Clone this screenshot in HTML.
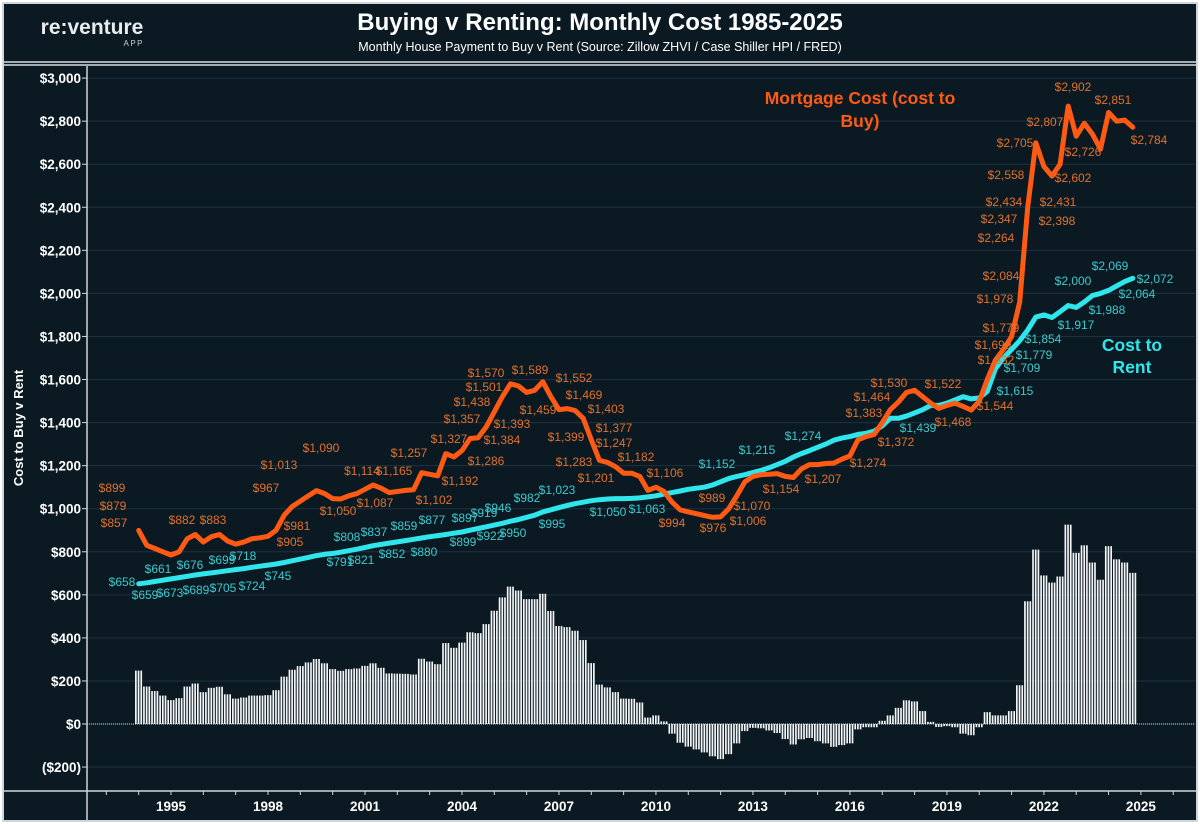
<!DOCTYPE html>
<html><head><meta charset="utf-8"><style>
html,body{margin:0;padding:0;background:#fff;}
#wrap{position:relative;width:1200px;height:824px;overflow:hidden;}
svg text{font-family:"Liberation Sans",Arial,sans-serif;}
</style></head><body>
<div id="wrap">
<svg id="chart" width="1200" height="824" xmlns="http://www.w3.org/2000/svg">
<rect x="0" y="0" width="1200" height="824" fill="#ffffff"/>
<rect x="3" y="3" width="1194" height="818" fill="#0b1a22" stroke="#cfd6da" stroke-width="2"/>
<line x1="3" y1="62" x2="1197" y2="62" stroke="#d8dde0" stroke-width="1.5"/>
<line x1="3" y1="65" x2="1197" y2="65" stroke="#d8dde0" stroke-width="1.5"/>
<text x="92" y="34" fill="#e8ecee" font-size="21" font-weight="bold" text-anchor="middle">re:venture</text>
<text x="144" y="46" fill="#c8cdd0" font-size="8" letter-spacing="1.5" text-anchor="end">APP</text>
<text x="600" y="30" fill="#ffffff" font-size="24" font-weight="bold" text-anchor="middle">Buying v Renting: Monthly Cost 1985-2025</text>
<text x="600" y="51" fill="#ffffff" font-size="12.5" text-anchor="middle">Monthly House Payment to Buy v Rent (Source: Zillow ZHVI / Case Shiller HPI / FRED)</text>
<text transform="translate(23,428) rotate(-90)" fill="#ffffff" font-size="13" font-weight="bold" text-anchor="middle">Cost to Buy v Rent</text>
<g id="grid"></g><g id="bars"></g><g id="lines"></g><g id="labels"></g><g id="axes"></g>
<text x="860" y="104" fill="#ff5a14" font-size="17.5" font-weight="bold" text-anchor="middle">Mortgage Cost (cost to</text>
<text x="860" y="127" fill="#ff5a14" font-size="17.5" font-weight="bold" text-anchor="middle">Buy)</text>
<text x="1132" y="351" fill="#2fe6ec" font-size="17.5" font-weight="bold" text-anchor="middle">Cost to</text>
<text x="1132" y="373" fill="#2fe6ec" font-size="17.5" font-weight="bold" text-anchor="middle">Rent</text>
</svg>
</div>
<script>
const startYear = 1994.0;
const stepYears = 0.25;
const mortgage = [
899,830,815,800, 785,800,860,880, 845,870,880,850, 835,845,860,865,
872,900,970,1010, 1035,1060,1084,1070, 1047,1045,1060,1070, 1090,1110,1095,1075,
1080,1085,1088,1167, 1160,1153,1256,1240, 1270,1326,1330,1380, 1450,1520,1580,1570,
1540,1550,1590,1520, 1460,1465,1456,1420, 1320,1225,1215,1195, 1165,1165,1150,1085,
1100,1080,1030,995, 985,977,968,960, 962,1000,1060,1125, 1150,1158,1160,1163,
1150,1145,1185,1205, 1205,1210,1212,1230, 1245,1320,1335,1345, 1400,1460,1495,1540,
1550,1520,1490,1466, 1480,1490,1475,1458, 1500,1600,1690,1740, 1800,1960,2400,2700,
2590,2545,2600,2870, 2730,2790,2740,2670, 2840,2800,2805,2772];
const rent = [
651,656,662,668, 674,680,686,692, 697,702,707,712, 717,722,728,733,
738,743,750,758, 766,774,782,788, 792,798,805,812, 820,828,834,840,
846,852,858,864, 870,875,880,886, 892,900,908,916, 924,932,942,950,
960,970,985,995, 1005,1015,1023,1030, 1037,1042,1045,1047, 1047,1048,1050,1055,
1060,1068,1075,1082, 1090,1095,1100,1110, 1125,1140,1150,1158, 1168,1178,1190,1205,
1220,1240,1256,1270, 1285,1300,1318,1328, 1335,1345,1350,1360, 1385,1420,1420,1430,
1445,1460,1480,1480, 1490,1505,1520,1510, 1515,1545,1650,1700, 1740,1780,1830,1890,
1900,1888,1915,1944, 1935,1960,1990,2000, 2014,2035,2055,2070];
const yTicks = [3000,2800,2600,2400,2200,2000,1800,1600,1400,1200,1000,800,600,400,200,0,-200];
const xTickYears = [1995,1998,2001,2004,2007,2010,2013,2016,2019,2022,2025];
const mortgageLabels = [
["$899",112,492],["$879",113,510],["$857",114,527],["$882",182,524],["$883",213,524],["$967",266,492],["$1,013",279,469],["$905",290,546],["$981",297,530],["$1,090",321,452],["$1,050",338,515],["$1,114",362,475],["$1,087",375,507],["$1,165",394,475],["$1,102",434,504],["$1,257",409,457],["$1,192",460,485],["$1,327",449,443],["$1,357",462,423],["$1,438",472,406],["$1,501",484,391],["$1,570",486,377],["$1,589",530,374],["$1,552",574,382],["$1,393",512,428],["$1,384",502,444],["$1,286",486,465],["$1,459",538,414],["$1,469",584,399],["$1,403",606,413],["$1,399",566,441],["$1,377",614,432],["$1,247",614,447],["$1,283",574,466],["$1,201",596,482],["$1,182",636,461],["$1,106",665,477],["$994",672,527],["$976",713,532],["$989",712,502],["$1,070",752,510],["$1,006",748,525],["$1,154",781,493],["$1,207",823,483],["$1,274",868,467],["$1,383",864,417],["$1,372",896,446],["$1,464",872,401],["$1,530",889,387],["$1,522",943,388],["$1,468",953,426],["$1,544",995,410],["$1,632",996,364],["$1,699",993,349],["$1,779",1001,332],["$1,978",995,303],["$2,084",1001,280],["$2,264",996,242],["$2,347",999,223],["$2,434",1004,206],["$2,558",1006,179],["$2,705",1015,147],["$2,807",1045,126],["$2,902",1073,91],["$2,851",1113,104],["$2,726",1083,156],["$2,784",1149,144],["$2,431",1058,206],["$2,398",1057,225],["$2,602",1073,182]];
const rentLabels = [
["$658",122,586],["$659",145,599],["$661",158,573],["$673",170,597],["$676",190,569],["$689",196,594],["$699",222,564],["$705",223,592],["$718",243,560],["$724",252,590],["$745",278,580],["$791",340,566],["$808",347,541],["$821",361,564],["$837",374,536],["$852",392,558],["$859",404,530],["$880",424,556],["$877",432,524],["$897",465,522],["$899",463,546],["$919",484,517],["$946",498,512],["$922",490,540],["$950",513,537],["$982",527,502],["$1,023",557,494],["$995",552,528],["$1,050",608,516],["$1,063",647,513],["$1,152",717,468],["$1,215",757,454],["$1,274",803,440],["$1,439",918,432],["$1,615",1015,395],["$1,709",1022,372],["$1,779",1034,359],["$1,854",1043,343],["$1,917",1076,329],["$1,988",1107,314],["$2,000",1073,285],["$2,069",1110,270],["$2,072",1155,283],["$2,064",1137,298]];

const NS='http://www.w3.org/2000/svg';
const PL=87, PR=1195, PT=66, PB=791;
function xs(yr){return 171 + (yr-1995)*32.33;}
function ys(v){return 724 - v*0.2153;}
function mk(tag,attrs,parent){const e=document.createElementNS(NS,tag);for(const k in attrs)e.setAttribute(k,attrs[k]);parent.appendChild(e);return e;}
const grid=document.getElementById('grid'),bars=document.getElementById('bars'),lines=document.getElementById('lines'),labels=document.getElementById('labels'),axes=document.getElementById('axes');

yTicks.forEach(v=>{
  const y=ys(v);
  const g=mk('line',{x1:PL,x2:PR,y1:y,y2:y,stroke:'#1d3240','stroke-width':1},grid);
  
  
  const t=mk('line',{x1:PL-5,x2:PL,y1:y,y2:y,stroke:'#cfd6da','stroke-width':1},axes);
  
  
  const lab=mk('text',{x:PL-6,y:y+5,fill:'#ffffff','font-size':13.5,'font-weight':'bold','text-anchor':'end'},axes);
  lab.textContent = v<0 ? '($'+Math.abs(v).toLocaleString('en-US')+')' : '$'+v.toLocaleString('en-US');
  
  
});
const zl=mk('line',{x1:PL,x2:PR,y1:ys(0),y2:ys(0),stroke:'#cfd6da','stroke-width':1,'stroke-dasharray':'1,1'},grid);



const n=Math.min(mortgage.length,rent.length);
const bw=32.33*stepYears;
for(let i=0;i<n;i++){
  const d=mortgage[i]-rent[i];
  const x=xs(startYear+i*stepYears);
  const y0=ys(0), y1=ys(d);
  for(let k=0;k<3;k++){
    const r=mk('rect',{x:x-bw/2+k*bw/3+0.4,y:Math.min(y0,y1),width:bw/3*0.62,height:Math.abs(y1-y0),fill:'#f4f6f7'},bars);
    
    
  }
}
function path(arr){return arr.map((v,i)=>(i?'L':'M')+xs(startYear+i*stepYears).toFixed(1)+','+ys(v).toFixed(1)).join(' ');}
const rl=mk('path',{d:path(rent),fill:'none',stroke:'#2fe6ec','stroke-width':5,'stroke-linejoin':'round','stroke-linecap':'round'},lines);


const ml=mk('path',{d:path(mortgage),fill:'none',stroke:'#ff5a14','stroke-width':5,'stroke-linejoin':'round','stroke-linecap':'round'},lines);



mortgageLabels.forEach(l=>{
  const t=mk('text',{x:l[1],y:l[2],fill:'#e0702c','font-size':12,'text-anchor':'middle'},labels);
  t.textContent=l[0];
  
  
});
rentLabels.forEach(l=>{
  const t=mk('text',{x:l[1],y:l[2],fill:'#3cc9cd','font-size':12,'text-anchor':'middle'},labels);
  t.textContent=l[0];
  
  
});

const ya=mk('line',{x1:PL,x2:PL,y1:PT,y2:821,stroke:'#cfd6da','stroke-width':1.5},axes);


const xa=mk('line',{x1:3,x2:1197,y1:PB,y2:PB,stroke:'#cfd6da','stroke-width':1.5},axes);


for(let yr=1992;yr<=2026;yr++){
  const x=xs(yr); if(x<PL+2||x>PR) continue;
  const t=mk('line',{x1:x,x2:x,y1:PB,y2:PB+4,stroke:'#cfd6da','stroke-width':1},axes);
  
  
}
xTickYears.forEach(yr=>{
  const t=mk('text',{x:xs(yr),y:811,fill:'#ffffff','font-size':13.5,'font-weight':'bold','text-anchor':'middle'},axes);
  t.textContent=yr;
  
  
});
</script>
</body></html>
